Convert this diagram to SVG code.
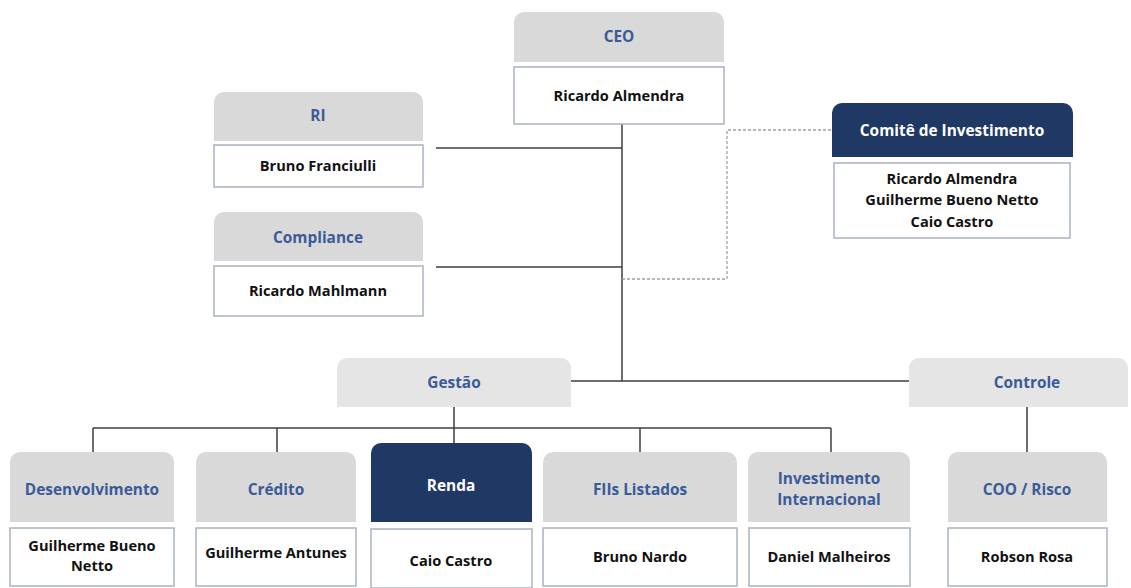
<svg xmlns="http://www.w3.org/2000/svg" width="1131" height="588" viewBox="0 0 1131 588">
<style>
.hd{fill:#d9d9d9}
.hl{fill:#e5e5e5}
.dk{fill:#1f3864}
.wb{fill:#fff;stroke:#a9b3c2;stroke-width:1.5}
text{font-family:"Open Sans","Noto Sans","Liberation Sans",sans-serif;font-weight:700;text-anchor:middle}
.ht{fill:#3b5b98;font-size:15.4px}
.wt{fill:#fff;font-size:15.4px}
.nt{fill:#111;font-size:14.6px}
.ln{stroke:#3f3f3f;stroke-width:1.5;fill:none}
.ds{stroke:#a0a0a0;stroke-width:1.3;fill:none;stroke-dasharray:3 2}
</style>
<g id="connectors">
<path class="ln" d="M622 124V381M436 148H622M436 267H622M571 381H909M454 407V443M93 428H831M93 428V452M277 428V452M640 428V452M831 428V452M1027 407V452"/>
<path class="ds" d="M622 279H727V130H832"/>
</g>
<g id="ceo">
<path class="hd" d="M514 62V22a10 10 0 0 1 10-10h190a10 10 0 0 1 10 10V62z"/>
<text class="ht" x="619" y="42">CEO</text>
<rect class="wb" x="514" y="67" width="210" height="57"/>
<text class="nt" x="619" y="101">Ricardo Almendra</text>
</g>
<g id="ri">
<path class="hd" d="M214 141V102a10 10 0 0 1 10-10h189a10 10 0 0 1 10 10V141z"/>
<text class="ht" x="318" y="121">RI</text>
<rect class="wb" x="214" y="145" width="209" height="42"/>
<text class="nt" x="318" y="171">Bruno Franciulli</text>
</g>
<g id="compliance">
<path class="hd" d="M214 261V222a10 10 0 0 1 10-10h189a10 10 0 0 1 10 10V261z"/>
<text class="ht" x="318" y="243">Compliance</text>
<rect class="wb" x="214" y="266" width="209" height="50"/>
<text class="nt" x="318" y="296">Ricardo Mahlmann</text>
</g>
<g id="comite">
<path class="dk" d="M832 157V113a10 10 0 0 1 10-10h221a10 10 0 0 1 10 10V157z"/>
<text class="wt" x="952" y="136">Comitê de Investimento</text>
<rect class="wb" x="834" y="163" width="236" height="75"/>
<text class="nt" x="952" y="184">Ricardo Almendra</text>
<text class="nt" x="952" y="205">Guilherme Bueno Netto</text>
<text class="nt" x="952" y="227">Caio Castro</text>
</g>
<g id="gestao">
<path class="hl" d="M337 407V368a10 10 0 0 1 10-10h214a10 10 0 0 1 10 10V407z"/>
<text class="ht" x="454" y="388">Gestão</text>
</g>
<g id="controle">
<path class="hl" d="M909 407V368a10 10 0 0 1 10-10h199a10 10 0 0 1 10 10V407z"/>
<text class="ht" x="1027" y="388">Controle</text>
</g>
<g id="desenvolvimento">
<path class="hd" d="M10 522V462a10 10 0 0 1 10-10h144a10 10 0 0 1 10 10V522z"/>
<text class="ht" x="92" y="495">Desenvolvimento</text>
<rect class="wb" x="10" y="528" width="164" height="58"/>
<text class="nt" x="92" y="551">Guilherme Bueno</text>
<text class="nt" x="92" y="571">Netto</text>
</g>
<g id="credito">
<path class="hd" d="M196 522V462a10 10 0 0 1 10-10h140a10 10 0 0 1 10 10V522z"/>
<text class="ht" x="276" y="495">Crédito</text>
<rect class="wb" x="196" y="528" width="160" height="58"/>
<text class="nt" x="276" y="558">Guilherme Antunes</text>
</g>
<g id="renda">
<path class="dk" d="M371 522V453a10 10 0 0 1 10-10h141a10 10 0 0 1 10 10V522z"/>
<text class="wt" x="451" y="491">Renda</text>
<rect class="wb" x="371" y="529" width="161" height="59"/>
<text class="nt" x="451" y="566">Caio Castro</text>
</g>
<g id="fiis">
<path class="hd" d="M543 522V462a10 10 0 0 1 10-10h174a10 10 0 0 1 10 10V522z"/>
<text class="ht" x="640" y="495">FIIs Listados</text>
<rect class="wb" x="543" y="528" width="194" height="58"/>
<text class="nt" x="640" y="562">Bruno Nardo</text>
</g>
<g id="internacional">
<path class="hd" d="M748 522V462a10 10 0 0 1 10-10h142a10 10 0 0 1 10 10V522z"/>
<text class="ht" x="829" y="484">Investimento</text>
<text class="ht" x="829" y="505">Internacional</text>
<rect class="wb" x="749" y="528" width="161" height="58"/>
<text class="nt" x="829" y="562">Daniel Malheiros</text>
</g>
<g id="coo">
<path class="hd" d="M948 522V462a10 10 0 0 1 10-10h139a10 10 0 0 1 10 10V522z"/>
<text class="ht" x="1027" y="495">COO / Risco</text>
<rect class="wb" x="948" y="528" width="159" height="58"/>
<text class="nt" x="1027" y="562">Robson Rosa</text>
</g>
</svg>
